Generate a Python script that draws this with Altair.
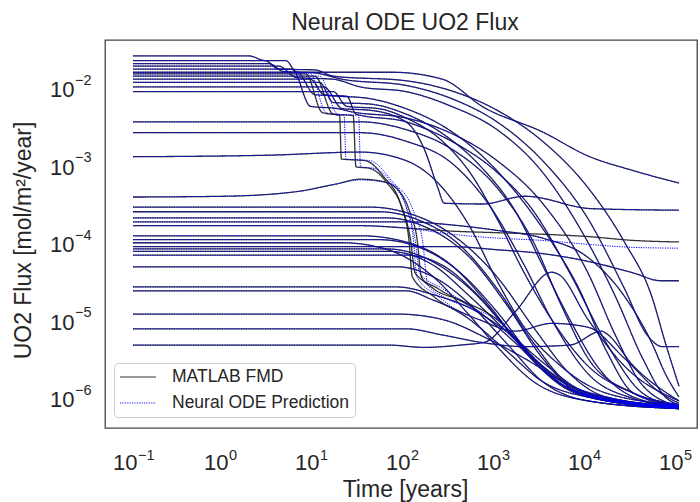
import altair as alt
import pandas as pd

# Curves: (log10 time [years], log10 flux [mol/m2/year]) knots
UPPER = [
    [(-1,-1.60),(0.28,-1.60),(0.45,-1.66),(0.68,-1.66),(0.8,-1.81),(1.85,-1.81),(2.4,-1.90),(2.85,-2.26),(3.5,-2.58),(4.0,-2.89),(4.5,-3.08),(5.0,-3.24)],
    [(-1,-1.66),(0.45,-1.66),(0.6,-1.77),(1.0,-1.78),(1.2,-1.86),(2.0,-1.92),(2.5,-2.05),(3.0,-2.3),(3.5,-2.7),(4.0,-3.3),(4.4,-4.0),(4.7,-4.7),(4.85,-5.3),(5.0,-5.86)],
    [(-1,-1.70),(0.5,-1.70),(0.65,-1.80),(1.0,-1.82),(1.3,-1.90),(2.0,-1.98),(2.5,-2.15),(3.0,-2.45),(3.5,-2.95),(4.0,-3.7),(4.4,-4.6),(4.65,-5.2),(4.82,-5.35),(5.0,-5.35)],
    [(-1,-1.73),(0.6,-1.73),(0.8,-1.88),(1.2,-1.90),(1.5,-2.0),(2.0,-2.06),(2.5,-2.25),(3.0,-2.55),(3.5,-3.1),(3.9,-3.8),(4.3,-4.7),(4.6,-5.5),(4.85,-6.0),(5.0,-6.1)],
    [(-1,-1.77),(0.75,-1.77),(0.95,-2.25),(1.25,-2.28),(1.4,-2.32),(2.0,-2.4),(2.5,-2.6),(3.0,-2.95),(3.5,-3.5),(4.0,-4.4),(4.3,-5.2),(4.6,-5.85),(5.0,-6.12)],
    [(-1,-1.81),(0.8,-1.81),(1.0,-2.1),(1.35,-2.12),(1.45,-2.35),(2.0,-2.45),(2.5,-2.7),(3.0,-3.1),(3.4,-3.6),(3.8,-4.4),(4.2,-5.3),(4.6,-5.95),(5.0,-6.12)],
    [(-1,-1.83),(0.9,-1.83),(1.08,-2.33),(1.27,-2.37),(1.29,-2.93),(1.55,-2.95),(1.75,-3.15),(1.95,-3.55),(2.03,-3.95),(2.07,-4.45),(2.3,-4.7),(2.7,-5.0),(3.1,-5.4),(3.5,-5.8),(4.0,-6.0),(5.0,-6.12)],
    [(-1,-1.86),(1.0,-1.86),(1.2,-2.35),(1.42,-2.37),(1.45,-3.03),(1.6,-3.05),(1.8,-3.25),(1.97,-3.6),(2.05,-3.97),(2.1,-4.4),(2.35,-4.6),(2.8,-4.9),(3.2,-5.3),(3.6,-5.75),(4.1,-6.0),(5.0,-6.12)],
    [(-1,-1.90),(0.95,-1.90),(1.1,-2.1),(1.6,-2.15),(2.0,-2.28),(2.4,-2.5),(2.8,-2.85),(3.2,-3.35),(3.6,-4.0),(3.9,-4.6),(4.2,-5.4),(4.5,-5.95),(5.0,-6.12)],
    [(-1,-1.94),(1.05,-1.94),(1.2,-2.2),(1.6,-2.22),(2.0,-2.35),(2.4,-2.6),(2.8,-3.0),(3.2,-3.6),(3.5,-4.3),(3.8,-5.0),(4.1,-5.6),(4.5,-6.0),(5.0,-6.12)],
    [(-1,-2.00),(1.1,-2.00),(1.3,-2.28),(1.6,-2.3),(2.0,-2.45),(2.2,-2.8),(2.35,-3.3),(2.42,-3.5),(2.84,-3.51),(3.31,-3.41),(4.04,-3.57),(5.0,-3.59)],
    [(-1,-2.06),(1.2,-2.06),(1.35,-2.25),(1.7,-2.28),(2.0,-2.4),(2.4,-2.7),(2.7,-3.1),(3.0,-3.7),(3.3,-4.4),(3.6,-5.0),(4.0,-5.6),(4.5,-5.95),(5.0,-6.1)],
]

MIDDLE = [
    [(-1,-2.45),(1.5,-2.45),(2.0,-2.55),(2.5,-2.8),(3.0,-3.3),(3.4,-4.0),(3.7,-4.8),(4.0,-5.5),(4.5,-5.95),(5.0,-6.1)],
    [(-1,-2.59),(1.5,-2.59),(2.0,-2.7),(2.5,-2.98),(2.9,-3.5),(3.3,-4.3),(3.6,-5.0),(4.0,-5.7),(4.5,-6.02),(5.0,-6.12)],
    [(-1,-2.90),(0.5,-2.88),(1.5,-2.84),(2.0,-2.95),(2.4,-3.3),(2.7,-3.8),(3.0,-4.5),(3.3,-5.1),(3.7,-5.6),(4.2,-5.95),(5.0,-6.1)],
    [(-1,-3.42),(0,-3.41),(0.8,-3.35),(1.2,-3.26),(1.5,-3.19),(1.75,-3.22),(1.95,-3.38),(2.05,-3.64),(2.12,-3.95),(2.17,-4.45),(2.3,-4.6),(2.6,-4.75),(3.0,-5.0),(3.4,-5.5),(3.8,-5.9),(4.3,-6.05),(5.0,-6.12)],
    [(-1,-3.55),(1.6,-3.55),(2.0,-3.62),(2.5,-3.9),(3.0,-4.45),(3.4,-5.1),(3.8,-5.7),(4.2,-6.0),(5.0,-6.12)],
    [(-1,-3.61),(1.7,-3.61),(2.1,-3.7),(2.6,-4.05),(3.0,-4.6),(3.4,-5.3),(3.8,-5.85),(4.3,-6.05),(5.0,-6.13)],
    [(-1,-3.69),(1.8,-3.69),(2.2,-3.8),(2.7,-4.2),(3.1,-4.8),(3.5,-5.5),(3.9,-5.95),(4.5,-6.1),(5.0,-6.14)],
    [(-1,-3.74),(2.0,-3.74),(2.5,-3.78),(3.0,-3.85),(3.5,-3.95),(4.0,-4.2),(4.4,-4.7),(4.7,-5.3),(4.85,-5.7),(5.0,-6.0)],
    [(-1,-3.79),(1.5,-3.79),(2.0,-3.82),(2.5,-3.86),(3.0,-3.88),(3.5,-3.9),(4.0,-3.93),(4.5,-3.98),(5.0,-4.0)],
    [(-1,-3.92),(1.5,-3.92),(2.0,-4.0),(2.5,-4.3),(2.9,-4.8),(3.3,-5.4),(3.7,-5.85),(4.2,-6.05),(5.0,-6.14)],
    [(-1,-3.97),(1.7,-3.97),(2.1,-4.05),(2.6,-4.4),(3.0,-4.9),(3.4,-5.5),(3.9,-5.95),(5.0,-6.14)],
    [(-1,-4.01),(1.3,-4.01),(1.8,-4.1),(2.3,-4.45),(2.7,-4.95),(3.0,-5.35),(3.4,-5.8),(4.0,-6.05),(5.0,-6.15)],
    [(-1,-4.06),(2.5,-4.06),(3.0,-4.1),(3.5,-4.15),(4.0,-4.25),(4.5,-4.4),(4.8,-4.5),(5.0,-4.5)],
    [(-1,-4.09),(1.8,-4.09),(2.2,-4.2),(2.7,-4.6),(3.1,-5.1),(3.5,-5.6),(4.0,-5.98),(5.0,-6.15)],
    [(-1,-4.12),(1.8,-4.12),(2.3,-4.3),(2.7,-4.7),(3.1,-5.15),(3.5,-5.6),(4.0,-5.95),(5.0,-6.12)],
    [(-1,-4.17),(2.0,-4.17),(2.4,-4.3),(2.8,-4.7),(3.2,-5.25),(3.6,-5.75),(4.1,-6.02),(5.0,-6.15)],
    [(-1,-4.32),(1.9,-4.32),(2.3,-4.45),(2.7,-4.8),(3.1,-5.3),(3.5,-5.8),(4.0,-6.05),(5.0,-6.15)],
]

LOWER = [
    [(-1,-4.58),(1.9,-4.58),(2.3,-4.68),(2.7,-4.85),(3.1,-5.15),(3.5,-5.55),(3.9,-5.9),(4.5,-6.08),(5.0,-6.15)],
    [(-1,-4.63),(2.0,-4.63),(2.3,-4.75),(2.8,-5.0),(3.2,-5.15),(3.6,-5.05),(4.0,-5.1),(4.4,-5.5),(4.8,-5.95),(5.0,-6.08)],
    [(-1,-4.93),(1.9,-4.93),(2.4,-5.0),(2.9,-5.25),(3.3,-5.5),(3.8,-5.85),(4.4,-6.05),(5.0,-6.14)],
    [(-1,-5.12),(2.0,-5.12),(2.4,-5.2),(2.85,-5.3),(3.3,-5.35),(3.8,-5.33),(4.15,-5.15),(4.2,-5.18),(4.5,-5.6),(5.0,-6.05)],
    [(-1,-5.33),(1.8,-5.33),(2.2,-5.36),(2.6,-5.33),(2.87,-5.29),(3.2,-4.9),(3.6,-4.39),(3.68,-4.42),(4.0,-5.0),(4.4,-5.6),(5.0,-6.05)],
]

# Where the Neural ODE prediction visibly departs from the MATLAB curve
PRED_OVERRIDES = {
    6: [(-1,-1.83),(0.95,-1.83),(1.12,-2.33),(1.32,-2.37),(1.34,-2.93),(1.6,-2.95),(1.8,-3.15),(2.0,-3.55),(2.08,-3.95),(2.12,-4.45),(2.35,-4.7),(2.7,-5.0),(3.1,-5.4),(3.5,-5.8),(4.0,-6.0),(5.0,-6.12)],
    7: [(-1,-1.86),(1.05,-1.86),(1.25,-2.35),(1.48,-2.37),(1.5,-3.03),(1.65,-3.05),(1.85,-3.25),(2.02,-3.6),(2.1,-3.97),(2.15,-4.4),(2.4,-4.6),(2.8,-4.9),(3.2,-5.3),(3.6,-5.75),(4.1,-6.0),(5.0,-6.12)],
    15: [(-1,-3.42),(0,-3.41),(0.8,-3.35),(1.2,-3.26),(1.5,-3.2),(1.8,-3.24),(2.0,-3.4),(2.1,-3.66),(2.18,-3.97),(2.24,-4.55),(2.4,-4.7),(2.7,-4.85),(3.0,-5.0),(3.4,-5.5),(3.8,-5.9),(4.3,-6.05),(5.0,-6.12)],
    20: [(-1,-3.79),(1.5,-3.79),(2.0,-3.82),(2.5,-3.9),(3.0,-3.95),(3.5,-3.98),(4.0,-4.03),(4.5,-4.07),(5.0,-4.08)],
}

SERIES = ["MATLAB FMD", "Neural ODE Prediction"]
X_TICKS = [0.1, 1, 10, 100, 1000, 10000, 100000]
X_EXPONENTS = ["\u22121", "0", "1", "2", "3", "4", "5"]
Y_TICKS = [1e-6, 1e-5, 1e-4, 1e-3, 1e-2]
Y_EXPONENTS = ["\u22126", "\u22125", "\u22124", "\u22123", "\u22122"]

curves = UPPER + MIDDLE + LOWER
rows = []
for i, c in enumerate(curves):
    for k, (lt, lf) in enumerate(c):
        rows.append({"curve": i, "series": SERIES[0], "k": k, "t": 10 ** lt, "flux": 10 ** lf})
    pc = PRED_OVERRIDES.get(i, c)
    for k, (lt, lf) in enumerate(pc):
        rows.append({"curve": i, "series": SERIES[1], "k": k, "t": 10 ** lt, "flux": 10 ** lf})
df = pd.DataFrame(rows)
xexp = pd.DataFrame({"t": X_TICKS, "exp": X_EXPONENTS})
yexp = pd.DataFrame({"flux": Y_TICKS, "exp": Y_EXPONENTS})

FONT = "Liberation Sans"
TXT = "#262626"

x = alt.X("t:Q", scale=alt.Scale(type="log", domain=[10 ** -1.308, 10 ** 5.198], nice=False),
          axis=alt.Axis(values=X_TICKS, labelExpr="'10'", labelAlign="right", labelOffset=4,
                        labelPadding=24, title="Time [years]", titleX=300, titleY=68,
                        titleBaseline="alphabetic", titleAlign="center"))
y = alt.Y("flux:Q", scale=alt.Scale(type="log", domain=[10 ** -6.40, 10 ** -1.394], nice=False),
          axis=alt.Axis(values=Y_TICKS, labelExpr="'10'", labelPadding=31, labelOffset=3,
                        title="UO2 Flux [mol/m\u00b2/year]", titleX=-75, titleY=200,
                        titleAngle=-90, titleBaseline="alphabetic", titleAlign="center"))
color = alt.Color("series:N", scale=alt.Scale(domain=SERIES, range=["#1c1c1c", "#0000ff"]),
                  legend=alt.Legend(title=None, orient="none", legendX=9, legendY=323,
                                    fillColor="white", strokeColor="#cccccc", cornerRadius=4,
                                    padding=5, labelFontSize=17.5, labelColor=TXT, labelLimit=320,
                                    symbolType="stroke", symbolSize=1296, symbolStrokeWidth=1.2,
                                    clipHeight=18, rowPadding=8, labelOffset=15))
dash = alt.StrokeDash("series:N", scale=alt.Scale(domain=SERIES, range=[[1, 0], [1.2, 1.2]]),
                      legend=alt.Legend(title=None, orient="none", legendX=9, legendY=323))

base = alt.Chart(df)
matlab = base.transform_filter(alt.datum.series == SERIES[0]).mark_line(
    strokeWidth=1.3, opacity=0.9, interpolate="monotone").encode(
    x=x, y=y, color=color, strokeDash=dash, detail="curve:N", order="k:Q")
pred = base.transform_filter(alt.datum.series == SERIES[1]).mark_line(
    strokeWidth=1.0, interpolate="monotone").encode(
    x=x, y=y, color=color, strokeDash=dash, detail="curve:N", order="k:Q")

xsup = alt.Chart(xexp).mark_text(align="left", baseline="alphabetic", dx=5, fontSize=14.5,
                                 font=FONT, color=TXT).encode(
    x=x, y=alt.value(420), text="exp:N")
ysup = alt.Chart(yexp).mark_text(align="left", baseline="alphabetic", dy=-2, fontSize=14.5,
                                 font=FONT, color=TXT).encode(
    x=alt.value(-30), y=y, text="exp:N")

chart = alt.layer(matlab, pred, xsup, ysup).properties(
    width=592, height=388,
    title=alt.Title("Neural ODE UO2 Flux", fontSize=23, fontWeight="normal", color=TXT,
                    offset=5, dx=4),
    autosize=alt.AutoSizeParams(type="none"),
    padding={"left": 105, "top": 40, "right": 3, "bottom": 74},
).configure_view(stroke="#444444", strokeWidth=1.3).configure_axis(
    domain=False, ticks=False, grid=False, labelFontSize=22, titleFontSize=23,
    labelColor=TXT, titleColor=TXT, labelFont=FONT,
    titleFont=FONT, titleFontWeight="normal"
).configure_legend(labelFont=FONT).configure_title(font=FONT)

chart.save("out.html", embed_options={"renderer": "svg", "actions": False})
